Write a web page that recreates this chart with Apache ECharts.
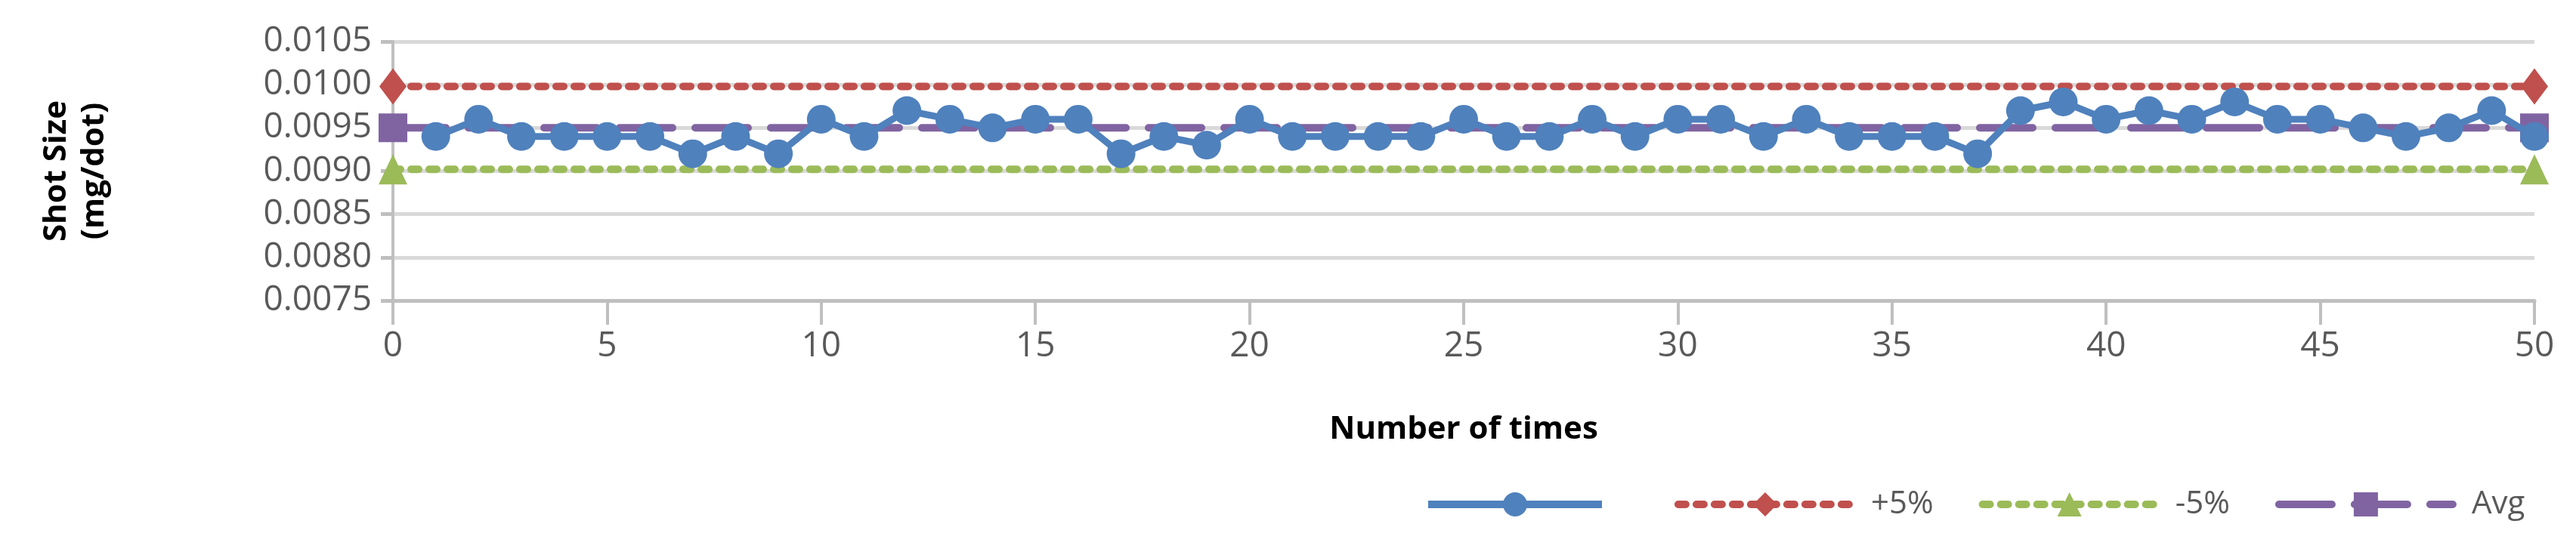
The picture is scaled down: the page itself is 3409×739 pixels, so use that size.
<!DOCTYPE html>
<html><head><meta charset="utf-8">
<script src="https://cdn.jsdelivr.net/npm/echarts@6/dist/echarts.min.js"></script>
<style>html,body{margin:0;padding:0;background:#fff}#main{width:3409px;height:739px}</style>
</head><body><div id="main"></div>
<script>
var runs = [];
for (var i = 1; i <= 50; i++) runs.push(i);
var shotSize = [0.0094,0.0096,0.0094,0.0094,0.0094,0.0094,0.0092,0.0094,0.0092,0.0096,
  0.0094,0.0097,0.0096,0.0095,0.0096,0.0096,0.0092,0.0094,0.0093,0.0096,
  0.0094,0.0094,0.0094,0.0094,0.0096,0.0094,0.0094,0.0096,0.0094,0.0096,
  0.0096,0.0094,0.0096,0.0094,0.0094,0.0094,0.0092,0.0097,0.0098,0.0096,
  0.0097,0.0096,0.0098,0.0096,0.0096,0.0095,0.0094,0.0095,0.0097,0.0094];
var limitX = [0, 50];
var upper = [0.00998, 0.00998];
var lower = [0.00902, 0.00902];
var avg = [0.0095, 0.0095];

function pairs(xs, ys) { return xs.map(function (x, k) { return [x, ys[k]]; }); }

var font = 'Open Sans';
var myChart = echarts.init(document.getElementById('main'));
var option = {
  animation: false,
  grid: {left: 520, right: 55, top: 55, bottom: 341},
  legend: {
    bottom: 45, left: 1880, itemWidth: 230, itemHeight: 40, itemGap: 60,
    textStyle: {fontFamily: font, fontSize: 42, color: '#595959', padding: [0, 0, 0, 20]},
    data: [
      {name: ' ', lineStyle: {width: 10}},
      {name: '+5%', lineStyle: {width: 10}},
      {name: '-5%', lineStyle: {width: 10}},
      {name: 'Avg', lineStyle: {width: 10}}
    ]
  },
  xAxis: {
    type: 'value', min: 0, max: 50, interval: 5,
    name: 'Number of times', nameLocation: 'middle', nameGap: 150,
    nameTextStyle: {fontFamily: font, fontSize: 42, fontWeight: 'bold', color: '#000'},
    axisLine: {lineStyle: {color: '#bfbfbf', width: 5}},
    axisTick: {length: 32, lineStyle: {color: '#bfbfbf', width: 4}},
    axisLabel: {fontFamily: font, fontSize: 46, color: '#595959', margin: 38},
    splitLine: {show: false}
  },
  yAxis: {
    type: 'value', min: 0.0075, max: 0.0105, interval: 0.0005,
    name: 'Shot Size\n(mg/dot)', nameLocation: 'middle', nameGap: 370, nameRotate: 90,
    nameTextStyle: {fontFamily: font, fontSize: 42, fontWeight: 'bold', color: '#000', lineHeight: 50},
    axisLine: {show: true, lineStyle: {color: '#bfbfbf', width: 4}},
    axisTick: {show: true, length: 16, lineStyle: {color: '#bfbfbf', width: 5}},
    axisLabel: {fontFamily: font, fontSize: 46, color: '#595959', margin: 28,
      formatter: function (v) { return v.toFixed(4); }},
    splitLine: {lineStyle: {color: '#d9d9d9', width: 5}}
  },
  series: [
    {name: '+5%', type: 'line', data: pairs(limitX, upper), symbol: 'diamond', symbolSize: [36, 48],
      lineStyle: {color: '#c0504d', width: 10, type: [10, 14], cap: 'round'}, itemStyle: {color: '#c0504d'}},
    {name: '-5%', type: 'line', data: pairs(limitX, lower), symbol: 'triangle', symbolSize: [38, 40],
      lineStyle: {color: '#9bbb59', width: 10, type: [10, 14], cap: 'round'}, itemStyle: {color: '#9bbb59'}},
    {name: 'Avg', type: 'line', data: pairs(limitX, avg), symbol: 'rect', symbolSize: 38,
      lineStyle: {color: '#8064a2', width: 10, type: [70, 30], cap: 'round'}, itemStyle: {color: '#8064a2'}},
    {name: ' ', type: 'line', data: pairs(runs, shotSize), symbol: 'circle', symbolSize: 38,
      lineStyle: {color: '#4f81bd', width: 9}, itemStyle: {color: '#4f81bd'}, z: 5}
  ]
};
myChart.setOption(option);
</script></body></html>
